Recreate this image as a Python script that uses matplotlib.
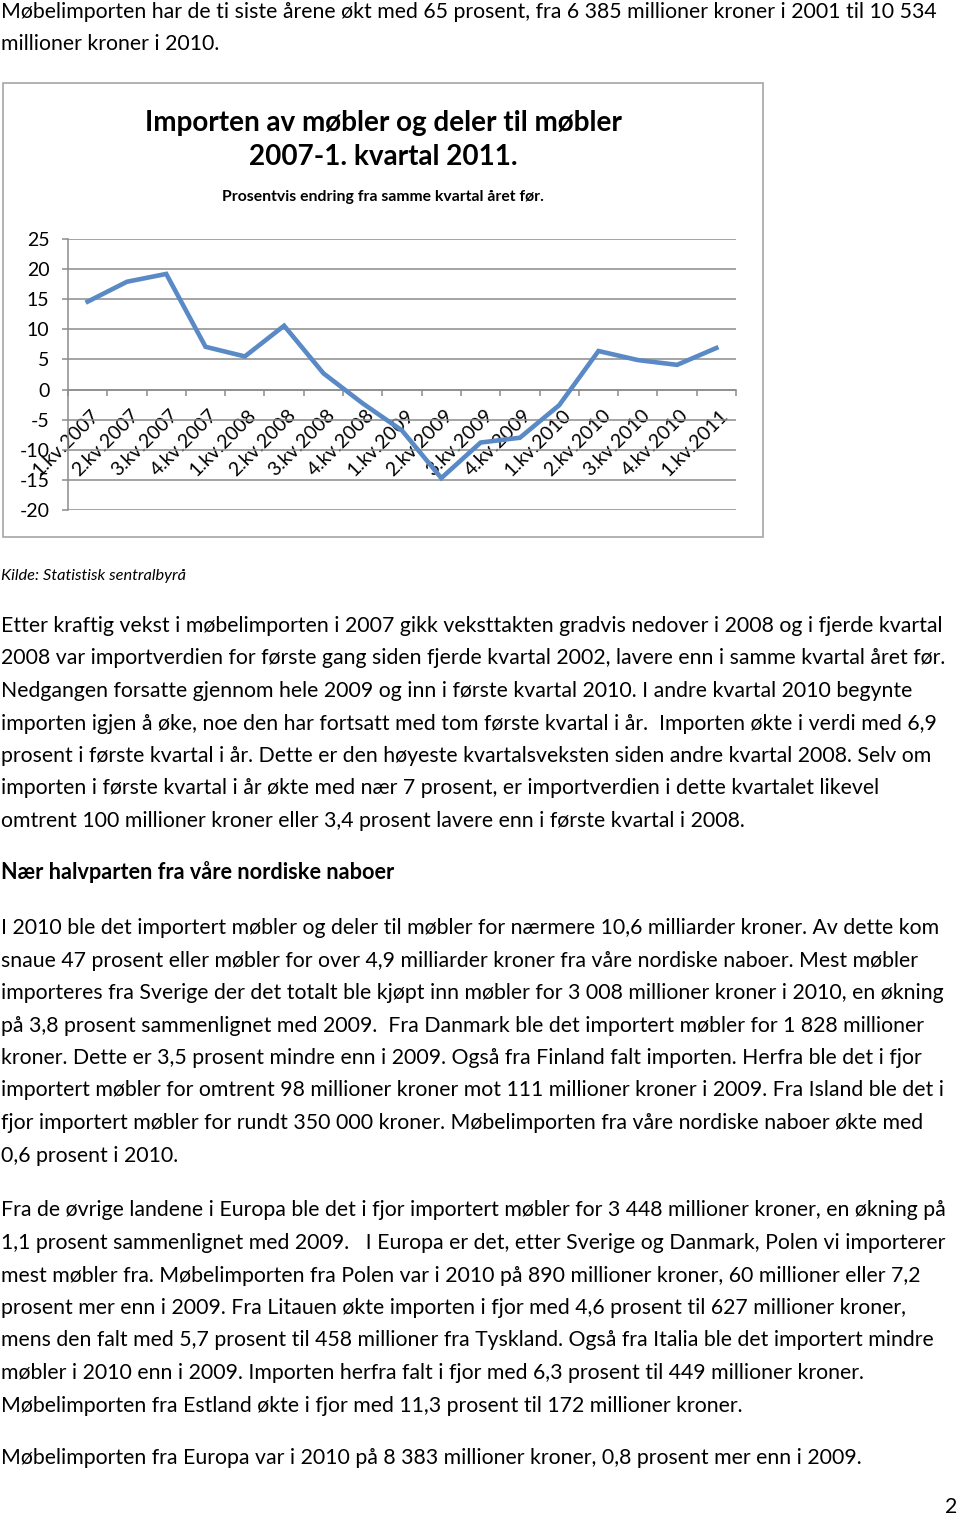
import numpy as np
import matplotlib
matplotlib.use("Agg")
import matplotlib.pyplot as plt
import matplotlib.transforms as mtransforms

plt.rcParams['font.family'] = ['Lato', 'DejaVu Sans']

# chart data: percent change from same quarter the year before
quarters = ["1.kv.2007", "2.kv.2007", "3.kv.2007", "4.kv.2007",
            "1.kv.2008", "2.kv.2008", "3.kv.2008", "4.kv.2008",
            "1.kv.2009", "2.kv.2009", "3.kv.2009", "4.kv.2009",
            "1.kv.2010", "2.kv.2010", "3.kv.2010", "4.kv.2010",
            "1.kv.2011"]
change = [14.6, 17.9, 19.2, 7.1, 5.5, 10.6, 2.7, -2.3, -6.8, -14.7,
          -8.8, -8.0, -2.6, 6.4, 4.9, 4.1, 6.9]
yticks = [-20, -15, -10, -5, 0, 5, 10, 15, 20, 25]

title_lines = ["Importen av møbler og deler til møbler", "2007-1. kvartal 2011."]
subtitle = "Prosentvis endring fra samme kvartal året før."
source = "Kilde: Statistisk sentralbyrå"

intro = ["Møbelimporten har de ti siste årene økt med 65 prosent, fra 6 385 millioner kroner i 2001 til 10 534",
         "millioner kroner i 2010."]
para1 = ["Etter kraftig vekst i møbelimporten i 2007 gikk veksttakten gradvis nedover i 2008 og i fjerde kvartal",
         "2008 var importverdien for første gang siden fjerde kvartal 2002, lavere enn i samme kvartal året før.",
         "Nedgangen forsatte gjennom hele 2009 og inn i første kvartal 2010. I andre kvartal 2010 begynte",
         "importen igjen å øke, noe den har fortsatt med tom første kvartal i år.  Importen økte i verdi med 6,9",
         "prosent i første kvartal i år. Dette er den høyeste kvartalsveksten siden andre kvartal 2008. Selv om",
         "importen i første kvartal i år økte med nær 7 prosent, er importverdien i dette kvartalet likevel",
         "omtrent 100 millioner kroner eller 3,4 prosent lavere enn i første kvartal i 2008."]
heading = "Nær halvparten fra våre nordiske naboer"
para2 = ["I 2010 ble det importert møbler og deler til møbler for nærmere 10,6 milliarder kroner. Av dette kom",
         "snaue 47 prosent eller møbler for over 4,9 milliarder kroner fra våre nordiske naboer. Mest møbler",
         "importeres fra Sverige der det totalt ble kjøpt inn møbler for 3 008 millioner kroner i 2010, en økning",
         "på 3,8 prosent sammenlignet med 2009.  Fra Danmark ble det importert møbler for 1 828 millioner",
         "kroner. Dette er 3,5 prosent mindre enn i 2009. Også fra Finland falt importen. Herfra ble det i fjor",
         "importert møbler for omtrent 98 millioner kroner mot 111 millioner kroner i 2009. Fra Island ble det i",
         "fjor importert møbler for rundt 350 000 kroner. Møbelimporten fra våre nordiske naboer økte med",
         "0,6 prosent i 2010."]
para3 = ["Fra de øvrige landene i Europa ble det i fjor importert møbler for 3 448 millioner kroner, en økning på",
         "1,1 prosent sammenlignet med 2009.   I Europa er det, etter Sverige og Danmark, Polen vi importerer",
         "mest møbler fra. Møbelimporten fra Polen var i 2010 på 890 millioner kroner, 60 millioner eller 7,2",
         "prosent mer enn i 2009. Fra Litauen økte importen i fjor med 4,6 prosent til 627 millioner kroner,",
         "mens den falt med 5,7 prosent til 458 millioner fra Tyskland. Også fra Italia ble det importert mindre",
         "møbler i 2010 enn i 2009. Importen herfra falt i fjor med 6,3 prosent til 449 millioner kroner.",
         "Møbelimporten fra Estland økte i fjor med 11,3 prosent til 172 millioner kroner."]
last_line = "Møbelimporten fra Europa var i 2010 på 8 383 millioner kroner, 0,8 prosent mer enn i 2009."

W, H = 960, 1515
fig = plt.figure(figsize=(W / 100, H / 100), dpi=100)
renderer = fig.canvas.get_renderer()


def fx(x):
    return x / W


def fy(y):
    return 1 - y / H


def fit(s, width, **kw):
    # font size that makes string s about `width` pixels wide
    t = fig.text(0, 0, s, fontsize=10, **kw)
    w = t.get_window_extent(renderer).width
    t.remove()
    return 10 * width / w


body_size = fit(para1[0], 940)
gap = 32.5


def lines(rows, y0, **kw):
    for i, s in enumerate(rows):
        fig.text(fx(1), fy(y0 + i * gap), s, fontsize=body_size,
                 ha='left', va='baseline', **kw)


lines(intro, 17.5)
lines(para1, 632)
fig.text(fx(1), fy(879), heading, fontsize=fit(heading, 393, weight='bold'),
         weight='bold', ha='left', va='baseline')
lines(para2, 934)
lines(para3, 1216.5)
lines([last_line], 1463.5)
fig.text(fx(957), fy(1513), "2", fontsize=body_size, ha='right', va='baseline')
fig.text(fx(1), fy(580), source, fontsize=fit(source, 185, style='italic'),
         style='italic', ha='left', va='baseline')

# chart frame
frame = plt.Rectangle((fx(3), fy(537)), fx(760), 454 / H, transform=fig.transFigure,
                      fill=False, edgecolor='#a6a6a6', linewidth=1.2)
fig.patches.append(frame)

tsize = fit(title_lines[0], 478, weight='bold')
fig.text(fx(383), fy(131.5), title_lines[0], fontsize=tsize, weight='bold',
         ha='center', va='baseline')
fig.text(fx(383), fy(165), title_lines[1], fontsize=tsize, weight='bold',
         ha='center', va='baseline')
fig.text(fx(383), fy(201.5), subtitle, fontsize=fit(subtitle, 322, weight='bold'),
         weight='bold', ha='center', va='baseline')

grey = '#8c8c8c'
ax = fig.add_axes([fx(68), fy(510), 668 / W, 271 / H])
x = np.arange(len(quarters)) + 0.5
ax.plot(x, change, color='#5a8ac6', linewidth=3.3, solid_joinstyle='miter', zorder=3)
ax.set_xlim(0, len(quarters))
ax.set_ylim(-20, 25)
ax.set_yticks(yticks)
ax.set_yticklabels([str(v) for v in yticks])
ax.yaxis.grid(True, color=grey, linewidth=1.1)
ax.set_axisbelow(True)
for side in ['top', 'right']:
    ax.spines[side].set_visible(False)
ax.spines['left'].set_color(grey)
ax.spines['left'].set_linewidth(1.1)
ax.spines['bottom'].set_position(('data', 0))
ax.spines['bottom'].set_color(grey)
ax.spines['bottom'].set_linewidth(1.1)
ax.tick_params(axis='y', length=4.3, width=1.1, color=grey, pad=9, labelsize=14)

ax.set_xticks(np.arange(len(quarters) + 1), minor=True)
ax.set_xticks(x)
ax.set_xticklabels(quarters, rotation=45, ha='right', va='top', rotation_mode='anchor')
ax.tick_params(axis='x', which='major', length=0, pad=12, labelsize=14)
ax.tick_params(axis='x', which='minor', length=4, width=1.1, color=grey)
shift = mtransforms.ScaledTranslation(3 / 100, 0, fig.dpi_scale_trans)
for lab in ax.get_xticklabels():
    lab.set_transform(lab.get_transform() + shift)

fig.savefig("out.png", dpi=100)
